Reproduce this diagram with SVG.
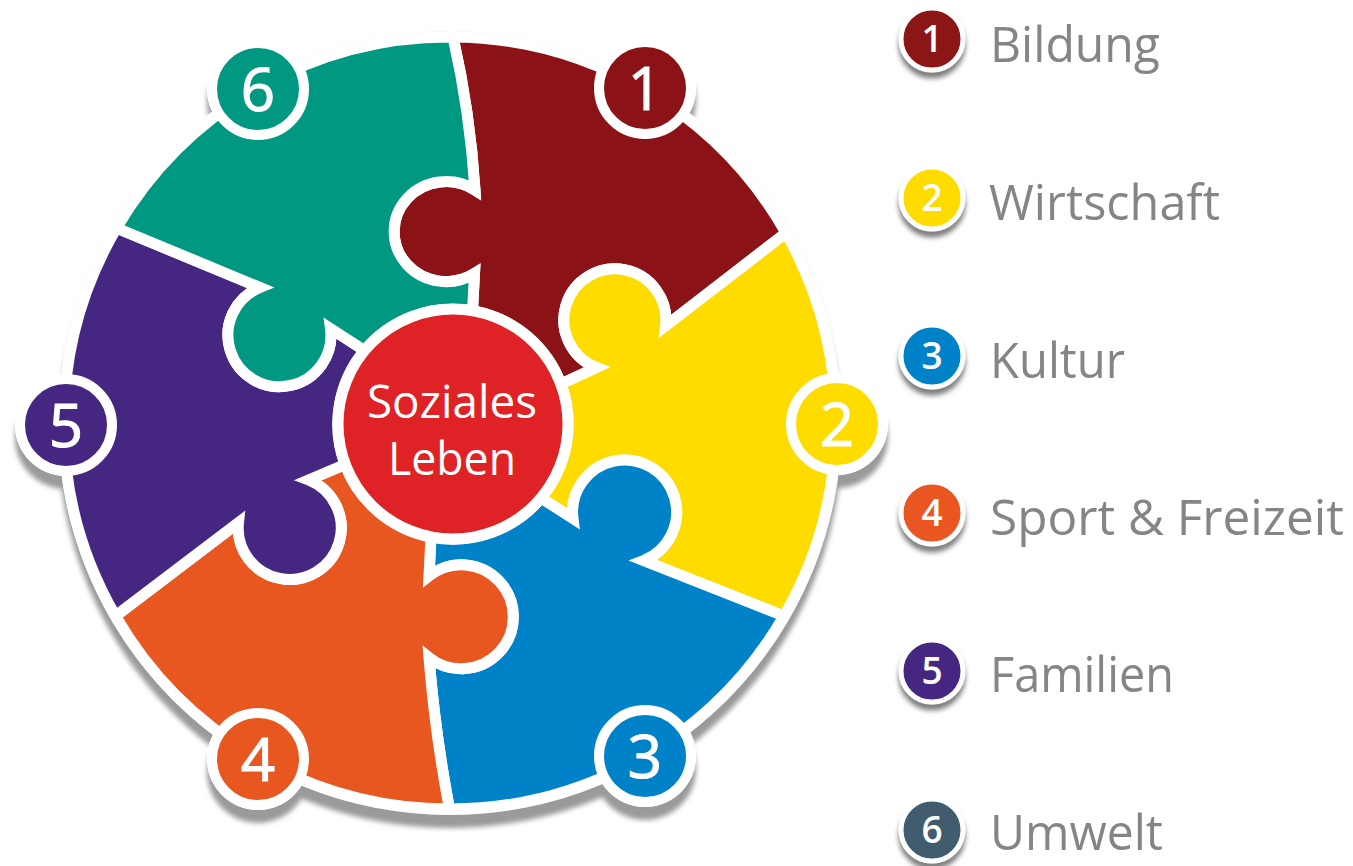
<svg xmlns="http://www.w3.org/2000/svg" width="1353" height="866" viewBox="0 0 1353 866">
<defs>
<filter id="wheelShadow" x="-10%" y="-10%" width="120%" height="120%"><feDropShadow dx="0" dy="13" stdDeviation="2.6" flood-color="#9a9a9a" flood-opacity="1"/></filter>
<filter id="legendShadow" x="-30%" y="-30%" width="160%" height="170%"><feDropShadow dx="0" dy="6" stdDeviation="2.5" flood-color="#555" flood-opacity="0.75"/></filter>
</defs>
<style>
.piece{stroke:#fff;stroke-width:11;stroke-linejoin:miter;stroke-miterlimit:6}
.badge{stroke:#fff;stroke-width:10}
.lbadge{stroke:#fff;stroke-width:5;filter:url(#legendShadow)}
text{font-family:"Open Sans","Noto Sans","Liberation Sans",sans-serif}
.num{fill:#fff;stroke:#fff;stroke-width:1.2;font-size:60px;font-weight:400;text-anchor:middle}
.lnum{fill:#fff;font-size:37px;font-weight:600;text-anchor:middle}
.lab{fill:#858585;font-size:50px;font-weight:400}
.mid{fill:#fff;font-size:46px;font-weight:400;text-anchor:middle}
.c1{fill:#8b1216}.c2{fill:#ffdc00}.c3{fill:#0082c8}.c4{fill:#e95720}.c5{fill:#452680}.c6{fill:#009880}.c7{fill:#3f5b6e}
</style>
<g id="wheel-shadow" filter="url(#wheelShadow)" fill="#fff">
<circle cx="450" cy="423" r="391.5" stroke="#f2f2f2" stroke-width="1"/>
<circle cx="645" cy="88" r="51"/><circle cx="837" cy="424" r="51"/><circle cx="645" cy="756" r="51"/>
<circle cx="258" cy="759" r="51"/><circle cx="66" cy="425" r="51"/><circle cx="258" cy="89" r="51"/>
</g>
<g id="piece-1">
<path class="piece c1" d="M453 37A386 386 0 0 1 786 233L665.5 326A51 51 0 1 0 596.5 367.5L561 384A115 115 0 0 0 472.5 311L474.5 273.5A52 50 0 1 1 475 190Q470 112 453 37Z"/>
</g>
<g id="piece-2">
<path class="piece c2" d="M786 233A386 386 0 0 1 784 616L643.5 560.5A52 52 0 1 0 573 518.5L541 498A115 115 0 0 0 561 384L596.5 367.5A51 51 0 1 1 665.5 326Z"/>
</g>
<g id="piece-3">
<path class="piece c3" d="M784 616A386 386 0 0 1 449.5 809Q435 733 429 657.5A52 52 0 1 0 429 576L431 537A115 115 0 0 0 541 498L573 518.5A52 52 0 1 1 643.5 560.5Z"/>
</g>
<g id="piece-4">
<path class="piece c4" d="M449.5 809A386 386 0 0 1 115.5 616L238.5 522.5A51.5 51.5 0 1 0 308.5 480L345 464.5A115 115 0 0 0 431 537L429 576A52 52 0 1 1 429 657.5Q435 733 449.5 809Z"/>
</g>
<g id="piece-5">
<path class="piece c5" d="M115.5 616A386 386 0 0 1 116.5 228L260 287.5A51.5 51.5 0 1 0 330.5 328.5L364.5 350.5A115 115 0 0 0 345 464.5L308.5 480A51.5 51.5 0 1 1 238.5 522.5Z"/>
</g>
<g id="piece-6">
<path class="piece c6" d="M116.5 228A386 386 0 0 1 453 37Q470 112 475 190A52 50 0 1 0 474.5 273.5L472.5 311A115 115 0 0 0 364.5 350.5L330.5 328.5A51.5 51.5 0 1 1 260 287.5Z"/>
</g>
<g id="badge-1"><circle class="badge c1" cx="645" cy="88" r="46"/><text class="num" x="645" y="110">1</text></g>
<g id="badge-2"><circle class="badge c2" cx="837" cy="424" r="46"/><text class="num" x="837" y="446">2</text></g>
<g id="badge-3"><circle class="badge c3" cx="645" cy="756" r="46"/><text class="num" x="645" y="778">3</text></g>
<g id="badge-4"><circle class="badge c4" cx="258" cy="759" r="46"/><text class="num" x="258" y="781">4</text></g>
<g id="badge-5"><circle class="badge c5" cx="66" cy="425" r="46"/><text class="num" x="66" y="447">5</text></g>
<g id="badge-6"><circle class="badge c6" cx="258" cy="89" r="46"/><text class="num" x="258" y="111">6</text></g>
<g id="center">
<circle cx="453" cy="424" r="115" fill="#de2226" stroke="#fff" stroke-width="11"/>
<text class="mid" x="452" y="418" textLength="170" lengthAdjust="spacingAndGlyphs">Soziales</text>
<text class="mid" x="452" y="475" textLength="128" lengthAdjust="spacingAndGlyphs">Leben</text>
</g>
<g id="legend-1"><circle class="lbadge c1" cx="932" cy="39" r="31"/><text class="lnum" x="932" y="52">1</text><text class="lab" x="990" y="62" textLength="170" lengthAdjust="spacingAndGlyphs">Bildung</text></g>
<g id="legend-2"><circle class="lbadge c2" cx="932" cy="198" r="31"/><text class="lnum" x="932" y="211">2</text><text class="lab" x="989" y="220" textLength="231" lengthAdjust="spacingAndGlyphs">Wirtschaft</text></g>
<g id="legend-3"><circle class="lbadge c3" cx="932" cy="356" r="31"/><text class="lnum" x="932" y="369">3</text><text class="lab" x="990" y="378" textLength="135" lengthAdjust="spacingAndGlyphs">Kultur</text></g>
<g id="legend-4"><circle class="lbadge c4" cx="932" cy="513" r="31"/><text class="lnum" x="932" y="526">4</text><text class="lab" x="990" y="535" textLength="354" lengthAdjust="spacingAndGlyphs">Sport &amp; Freizeit</text></g>
<g id="legend-5"><circle class="lbadge c5" cx="932" cy="671" r="31"/><text class="lnum" x="932" y="684">5</text><text class="lab" x="990" y="692" textLength="184" lengthAdjust="spacingAndGlyphs">Familien</text></g>
<g id="legend-6"><circle class="lbadge c7" cx="932" cy="830" r="31"/><text class="lnum" x="932" y="843">6</text><text class="lab" x="990" y="850" textLength="173" lengthAdjust="spacingAndGlyphs">Umwelt</text></g>
</svg>
